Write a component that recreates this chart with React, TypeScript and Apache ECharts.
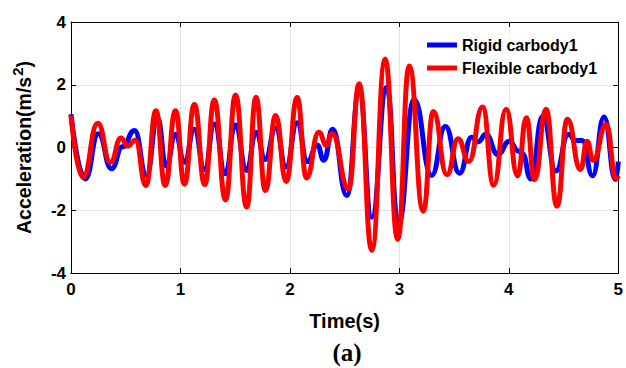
import React, { useEffect, useRef } from "react";
import * as echarts from "echarts";

const xTicks = [0, 1, 2, 3, 4, 5];
const yTicks = [-4, -2, 0, 2, 4];

const rigidTime = [
  0.0, 0.13, 0.25, 0.37, 0.47, 0.58, 0.69, 0.79, 0.87, 0.955, 1.036, 1.127, 1.22, 1.31, 1.41, 1.5,
  1.605, 1.69, 1.775, 1.87, 1.965, 2.066, 2.16, 2.25, 2.31, 2.39, 2.52, 2.633, 2.748, 2.885, 2.99,
  3.135, 3.295, 3.42, 3.55, 3.66, 3.72, 3.79, 3.9, 4.005, 4.09, 4.125, 4.2, 4.31, 4.43, 4.545, 4.61,
  4.67, 4.765, 4.87, 4.975, 5.0,
];
const rigidAccel = [
  1.06, -1.0, 0.44, -0.68, 0.02, 0.54, -0.89, 0.95, -0.6, 0.42, -0.47, 0.58, -0.7, 0.75, -0.84, 0.72,
  -0.73, 0.49, -0.38, 0.62, -0.62, 0.79, -0.45, 0.08, -0.41, 0.58, -1.53, 1.75, -2.22, 1.92, -2.45,
  1.52, -0.89, 0.67, -0.82, 0.33, 0.18, 0.42, -0.22, 0.2, -0.12, -0.2, -1.0, 1.0, -0.75, 0.42, 0.22,
  0.22, -0.9, 0.97, -1.02, -0.45,
];

const flexTime = [
  0.0, 0.109, 0.245, 0.36, 0.457, 0.518, 0.588, 0.685, 0.776, 0.86, 0.955, 1.036, 1.127, 1.222, 1.309,
  1.412, 1.503, 1.605, 1.69, 1.776, 1.87, 1.966, 2.066, 2.152, 2.264, 2.335, 2.385, 2.536, 2.633,
  2.748, 2.87, 2.985, 3.09, 3.218, 3.31, 3.435, 3.536, 3.635, 3.76, 3.862, 3.975, 4.08, 4.16, 4.236,
  4.34, 4.44, 4.535, 4.655, 4.715, 4.77, 4.89, 4.98, 5.0,
];
const flexAccel = [
  1.03, -0.95, 0.77, -0.47, 0.3, 0.04, 0.23, -1.21, 1.17, -1.21, 1.17, -1.17, 1.37, -1.18, 1.51,
  -1.67, 1.67, -1.9, 1.6, -1.37, 1.02, -1.08, 1.59, -0.97, 0.49, 0.06, 0.45, -1.32, 2.03,
  -3.28, 2.82, -2.93, 2.6, -2.03, 1.15, -0.87, 0.28, -0.45, 1.29, -1.2, 1.22, -0.9, 0.95, -1.03,
  1.22, -1.87, 0.9, -0.7, 0.2, -0.41, 0.73, -1.0, -0.9,
];

const seriesNames = ["Rigid carbody1", "Flexible carbody1"];

export default function App() {
  const ref = useRef<HTMLDivElement>(null);
  useEffect(() => {
    if (!ref.current) return;
    const chart = echarts.init(ref.current, null, { renderer: "svg" });
    const font = "'Liberation Sans', Arial, sans-serif";
    const rigid = rigidTime.map((t, i) => [t, rigidAccel[i]]);
    const flex = flexTime.map((t, i) => [t, flexAccel[i]]);
    const common = {
      min: xTicks[0],
      max: xTicks[xTicks.length - 1],
      interval: 1,
    };
    const frameLine = { show: true, onZero: false, lineStyle: { color: "#000", width: 1 } };
    const tick = { show: true, inside: true, length: 5, lineStyle: { color: "#000" } };
    chart.setOption({
      animation: false,
      backgroundColor: "#ffffff",
      grid: {
        left: 71,
        right: 5,
        top: 22,
        bottom: 95,
        show: false,
      },
      legend: {
        data: seriesNames,
        orient: "vertical",
        left: 422,
        top: 34,
        icon: "rect",
        itemWidth: 30,
        itemHeight: 5,
        itemGap: 7,
        padding: [3, 5, 3, 5],
        backgroundColor: "#ffffff",
        textStyle: { fontFamily: font, fontWeight: "bold", fontSize: 16, color: "#000" },
      },
      xAxis: [
        {
          type: "value",
          ...common,
          name: "Time(s)",
          nameLocation: "middle",
          nameGap: 38,
          nameTextStyle: { fontFamily: font, fontWeight: "bold", fontSize: 20, color: "#000" },
          axisLine: frameLine,
          axisTick: tick,
          axisLabel: {
            fontFamily: font,
            fontWeight: "bold",
            fontSize: 17,
            color: "#000",
            margin: 8,
          },
          splitLine: { show: true, lineStyle: { color: "#e3e3e3", width: 1 } },
        },
        {
          type: "value",
          ...common,
          position: "top",
          axisLine: frameLine,
          axisTick: tick,
          axisLabel: { show: false },
          splitLine: { show: false },
        },
      ],
      yAxis: [
        {
          type: "value",
          min: yTicks[0],
          max: yTicks[yTicks.length - 1],
          interval: 2,
          name: "Acceleration(m/s{sup|2})",
          nameLocation: "middle",
          nameGap: 34,
          nameTextStyle: {
            fontFamily: font,
            fontWeight: "bold",
            fontSize: 19.5,
            color: "#000",
            rich: {
              sup: {
                fontFamily: font,
                fontWeight: "bold",
                fontSize: 15,
                color: "#000",
                padding: [0, 0, 12, 1],
              },
            },
          },
          axisLine: frameLine,
          axisTick: tick,
          axisLabel: {
            fontFamily: font,
            fontWeight: "bold",
            fontSize: 17,
            color: "#000",
            margin: 5,
            padding: [0, 0, 8, 0],
          },
          splitLine: { show: true, lineStyle: { color: "#e3e3e3", width: 1 } },
        },
        {
          type: "value",
          min: yTicks[0],
          max: yTicks[yTicks.length - 1],
          interval: 2,
          position: "right",
          axisLine: frameLine,
          axisTick: tick,
          axisLabel: { show: false },
          splitLine: { show: false },
        },
      ],
      graphic: [
        {
          type: "text",
          x: 347,
          y: 352,
          style: {
            text: "(a)",
            align: "center",
            verticalAlign: "middle",
            fontFamily: "'Liberation Serif', 'Times New Roman', serif",
            fontWeight: "bold",
            fontSize: 25,
            fill: "#000",
          },
        },
      ],
      series: [
        {
          name: seriesNames[0],
          type: "line",
          data: rigid,
          smooth: 0.5,
          smoothMonotone: "x",
          showSymbol: false,
          symbol: "none",
          lineStyle: { color: "#0000ff", width: 5 },
          itemStyle: { color: "#0000ff" },
          z: 2,
        },
        {
          name: seriesNames[1],
          type: "line",
          data: flex,
          smooth: 0.5,
          smoothMonotone: "x",
          showSymbol: false,
          symbol: "none",
          lineStyle: { color: "#ff0000", width: 5 },
          itemStyle: { color: "#ff0000" },
          z: 3,
        },
      ],
    });
    return () => chart.dispose();
  }, []);
  return <div ref={ref} style={{ width: 626, height: 368, position: "absolute", left: 0, top: 0 }} />;
}
